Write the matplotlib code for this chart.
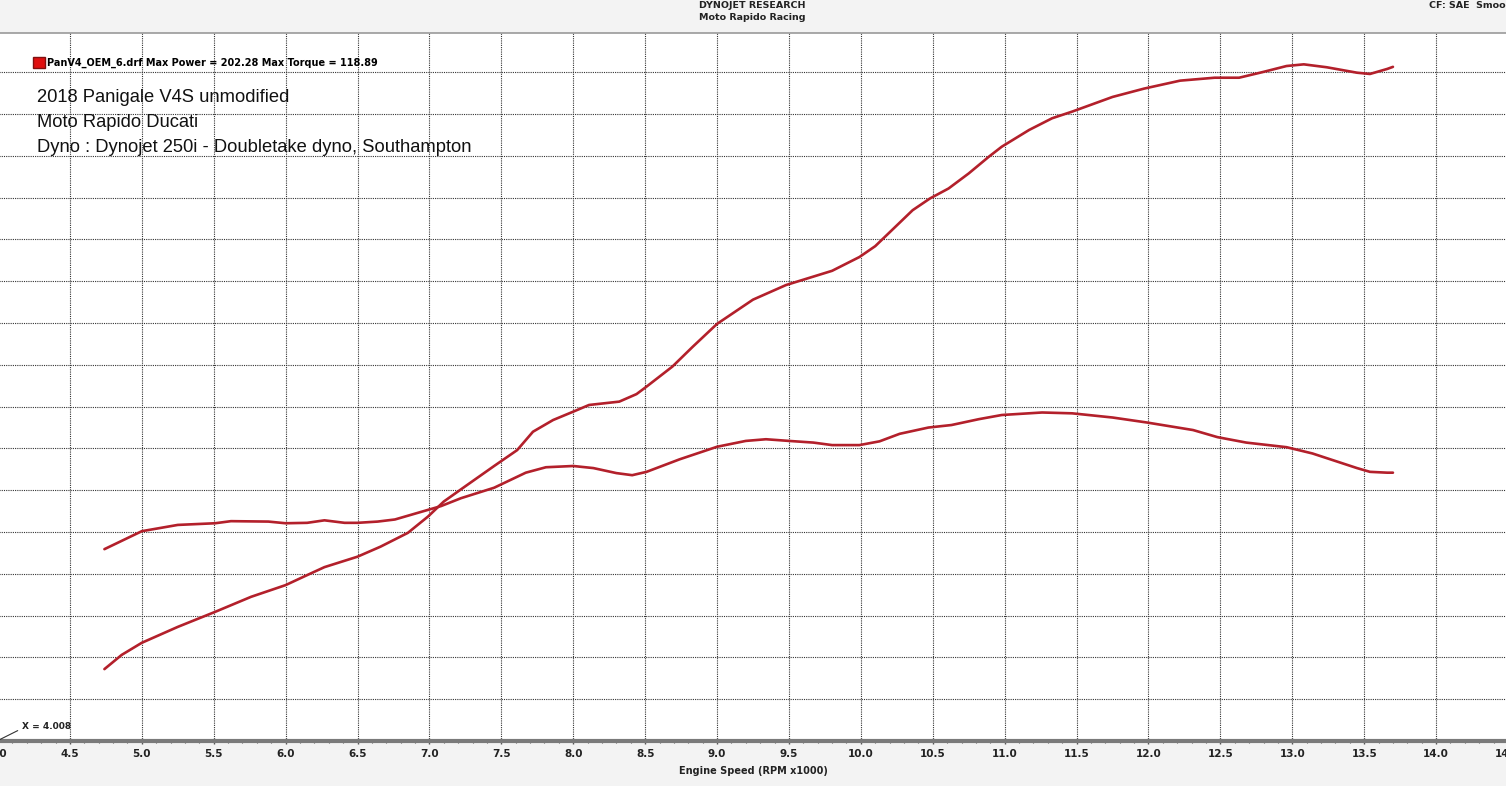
import numpy as np
import matplotlib.pyplot as plt
from matplotlib.patches import Patch

# Dyno run values (RPM x1000)
power_rpm = [4.74, 4.86, 5.00, 5.25, 5.51, 5.76, 6.00, 6.15, 6.27, 6.50, 6.66, 6.85,
             6.99, 7.10, 7.26, 7.45, 7.61, 7.72, 7.86, 8.00, 8.11, 8.32, 8.44, 8.51,
             8.69, 8.83, 9.00, 9.25, 9.48, 9.80, 9.99, 10.10, 10.36, 10.48, 10.61,
             10.75, 10.89, 10.98, 11.17, 11.33, 11.47, 11.75, 11.97, 12.22, 12.46,
             12.63, 12.80, 12.96, 13.08, 13.24, 13.45, 13.54, 13.66, 13.70]
power_hp = [57.2, 60.6, 63.5, 67.3, 70.9, 74.5, 77.3, 79.7, 81.6, 84.1, 86.5, 89.8,
            93.7, 97.3, 101.2, 105.8, 109.6, 114.0, 116.8, 118.8, 120.4, 121.2, 123.0, 124.8,
            129.6, 134.3, 139.8, 145.6, 149.1, 152.5, 155.8, 158.4, 167.0, 169.8, 172.2,
            175.8, 179.8, 182.2, 186.2, 189.0, 190.6, 194.1, 196.1, 198.0, 198.7,
            198.7, 200.1, 201.5, 201.9, 201.2, 199.9, 199.6, 200.8, 201.3]

torque_rpm = [4.74, 5.00, 5.25, 5.51, 5.62, 5.88, 6.00, 6.15, 6.27, 6.41, 6.50, 6.64,
              6.76, 6.87, 6.99, 7.08, 7.22, 7.45, 7.67, 7.81, 8.00, 8.14, 8.30, 8.41,
              8.51, 8.74, 9.00, 9.20, 9.34, 9.50, 9.67, 9.80, 9.99, 10.13, 10.27,
              10.47, 10.63, 10.82, 10.98, 11.26, 11.47, 11.75, 11.99, 12.31, 12.48,
              12.68, 12.96, 13.14, 13.45, 13.54, 13.66, 13.70]
torque_nm = [85.9, 90.2, 91.7, 92.1, 92.6, 92.5, 92.1, 92.2, 92.8, 92.2, 92.2, 92.5,
             93.0, 94.1, 95.3, 96.2, 98.1, 100.6, 104.2, 105.5, 105.8, 105.3, 104.1, 103.6,
             104.4, 107.4, 110.4, 111.8, 112.2, 111.8, 111.4, 110.8, 110.8, 111.7, 113.5,
             115.0, 115.6, 117.0, 118.0, 118.6, 118.4, 117.4, 116.2, 114.4, 112.7,
             111.4, 110.3, 108.8, 105.3, 104.4, 104.2, 104.2]

x_ticks = np.arange(4.0, 14.51, 0.5)
y_grid = np.arange(50, 201, 10)

W, H = 1506, 786
fig = plt.figure(figsize=(W / 100, H / 100), dpi=100)
fig.patch.set_facecolor('#f3f3f3')

# axes panel in pixel coords
left, right, top, bottom = -2, 1508, 33, 741
ax = fig.add_axes([left / W, 1 - bottom / H, (right - left) / W, (bottom - top) / H])
ax.set_facecolor('white')
ax.set_xlim(4.0, 14.5)
ax.set_ylim(40, 209.4)

red = '#b3202b'
ax.plot(power_rpm, power_hp, color=red, lw=1.9, solid_capstyle='round', solid_joinstyle='round')
ax.plot(torque_rpm, torque_nm, color=red, lw=1.9, solid_capstyle='round', solid_joinstyle='round')

ax.set_xticks(x_ticks)
ax.set_xticklabels([f"{v:.1f}" for v in x_ticks], fontsize=7.5, fontweight='bold', color='#222')
ax.set_xticks(np.arange(4.0, 14.51, 0.1), minor=True)
ax.set_yticks(y_grid)
ax.set_yticklabels([])
ax.tick_params(axis='y', length=0)
ax.tick_params(axis='x', which='both', direction='inout', color='#555', pad=3)
ax.tick_params(axis='x', which='major', length=5, width=1)
ax.tick_params(axis='x', which='minor', length=3, width=0.8)
ax.grid(True, which='major', color='#333', linestyle=(0, (1.0, 1.0)), linewidth=0.8)

for s in ['top', 'left', 'right']:
    ax.spines[s].set_color('#9a9a9a')
    ax.spines[s].set_linewidth(1.2)
ax.spines['bottom'].set_color('#7a7a7a')
ax.spines['bottom'].set_linewidth(3)

ax.set_xlabel('Engine Speed (RPM x1000)', fontsize=7, fontweight='bold', color='#222', labelpad=5)

# legend
leg = ax.legend(handles=[Patch(facecolor='#e01010', edgecolor='#801010')],
                labels=['PanV4_OEM_6.drf Max Power = 202.28 Max Torque = 118.89'],
                loc='upper left', bbox_to_anchor=(33 / W, 1 - 57 / H), bbox_transform=fig.transFigure,
                frameon=False, handlelength=1.2, handleheight=1.3, handletextpad=0.2,
                borderpad=0, borderaxespad=0, prop={'size': 7, 'weight': 'bold'})

# annotation block
notes = ['2018 Panigale V4S unmodified', 'Moto Rapido Ducati',
         'Dyno : Dynojet 250i - Doubletake dyno, Southampton']
for i, t in enumerate(notes):
    fig.text(37 / W, 1 - (97 + i * 25.5) / H, t, fontsize=13.2, family='Liberation Sans',
             color='#111', va='center', ha='left')

# header texts
fig.text(752 / W, 1 - 5 / H, 'DYNOJET RESEARCH', fontsize=6.8, fontweight='bold', ha='center', va='center', color='#222')
fig.text(752 / W, 1 - 17 / H, 'Moto Rapido Racing', fontsize=6.8, fontweight='bold', ha='center', va='center', color='#222')
fig.text(1429 / W, 1 - 5 / H, 'CF: SAE  Smoo', fontsize=6.8, fontweight='bold', ha='left', va='center', color='#222')

# cursor marker
ax.annotate('X = 4.008', xy=(4.01, 40.3), xytext=(4.165, 43.4), fontsize=6.5, fontweight='bold', color='#222',
            va='center', arrowprops=dict(arrowstyle='-', color='#333', lw=0.8, shrinkA=1, shrinkB=0,
                                         relpos=(0, 0.3)))

fig.savefig('out.png', dpi=100, facecolor=fig.get_facecolor())
